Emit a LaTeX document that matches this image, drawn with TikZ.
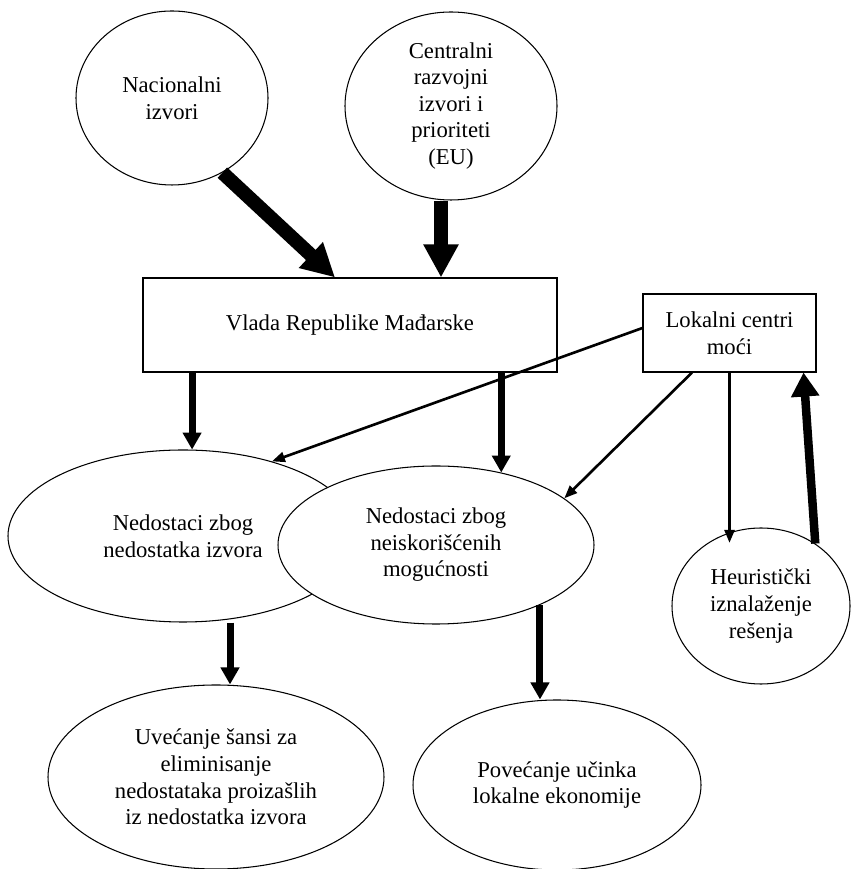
\documentclass[tikz,border=0pt]{standalone}
\usepackage{fontspec}
\setmainfont{Liberation Serif}
\usetikzlibrary{shapes.geometric,arrows.meta}

\begin{document}
\begin{tikzpicture}[
  every node/.style = {align=center, font=\fontsize{12.9}{15.1}\selectfont, line width=0.6pt},
  elip/.style = {draw, ellipse, inner sep=0pt, fill=white},
  kutija/.style = {draw, rectangle, inner sep=0pt, fill=white},
  debela/.style = {line width=2.8mm, -{Triangle[width=6.6mm,length=6.6mm]}},
  srednja/.style = {line width=1.4mm, -{Triangle[width=3.6mm,length=3.4mm]}},
  tanka/.style = {line width=1.5pt, -{Triangle[width=2mm,length=2.6mm]}},
  povratna/.style = {line width=1.7mm, -{Triangle[width=5.4mm,length=4.8mm]}}]

\useasboundingbox (0,0) rectangle (17,17.38);

%izvori
\node[elip, minimum width=3.84cm, minimum height=3.48cm] (nac) at (3.44,15.42) {Nacionalni\\izvori};
\node[elip, minimum width=4.24cm, minimum height=3.76cm] (cent) at (9.02,15.26) {Centralni\\razvojni\\izvori i\\prioriteti\\(EU)};

%vlada i lokalni centri
\node[kutija, minimum width=8.28cm, minimum height=1.88cm] (vlada) at (7,10.88) {Vlada Republike Mađarske};
\node[kutija, minimum width=3.46cm, minimum height=1.56cm] (lok) at (14.59,10.72) {Lokalni centri\\moći};

%nedostaci
\node[elip, minimum width=7cm, minimum height=3.44cm] (ned1) at (3.66,6.66) {Nedostaci zbog\\nedostatka izvora};
\node[elip, minimum width=6.32cm, minimum height=3.16cm] (ned2) at (8.72,6.48) {Nedostaci zbog\\neiskorišćenih\\mogućnosti};
\node[elip, minimum width=3.56cm, minimum height=3.12cm] (heu) at (15.22,5.26) {Heuristički\\iznalaženje\\rešenja};

%ishodi
\node[elip, minimum width=6.72cm, minimum height=3.68cm] (uve) at (4.32,1.84) {Uvećanje šansi za\\eliminisanje\\nedostataka proizašlih\\iz nedostatka izvora};
\node[elip, minimum width=5.76cm, minimum height=3.4cm] (pov) at (11.14,1.68) {Povećanje učinka\\lokalne ekonomije};

\coordinate (hcilj) at ([yshift=-2mm]heu.114);

\draw[debela] (nac.-56) -- ([xshift=-3mm]vlada.north);
\draw[debela] ([xshift=-2mm]cent.south) -- ([xshift=-2mm]cent.south |- vlada.north);
\draw[srednja] (ned1.84 |- vlada.south) -- (ned1.84);
\draw[srednja] (ned2.48 |- vlada.south) -- (ned2.48);
\draw[tanka] ([yshift=1mm]lok.west) -- (ned1.40);
\draw[tanka] ([xshift=-7.5mm]lok.south) -- (ned2.20);
\draw[tanka] (lok.south) -- (lok.south |- hcilj);
\draw[povratna] (heu.49) -- ([xshift=-2.6mm]lok.south east);
\draw[srednja] ([xshift=9.4mm]ned1.south) -- ([xshift=9.4mm]ned1.south |- uve.north);
\draw[srednja] (ned2.-30) -- (ned2.-30 |- pov.north);

\end{tikzpicture}
\end{document}
